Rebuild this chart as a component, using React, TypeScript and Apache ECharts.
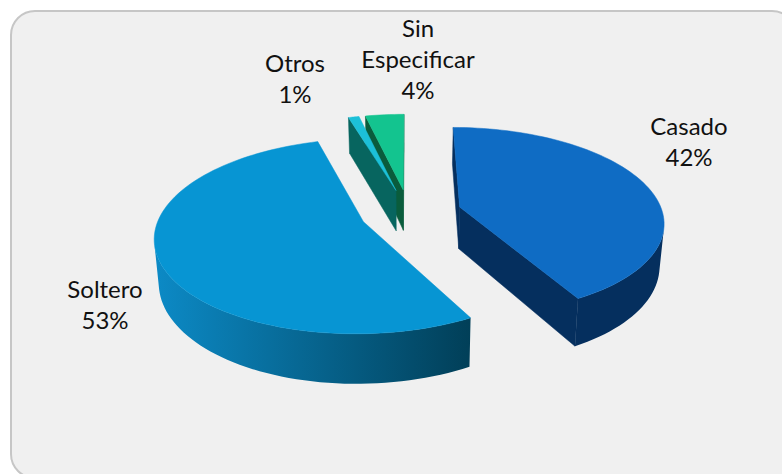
import React, { useEffect, useRef } from "react";
import * as echarts from "echarts";

const categories = ["Casado", "Soltero", "Otros", "Sin\nEspecificar"];
const values = [42.0, 53.4, 1.0, 3.6];
const percentLabels = ["42%", "53%", "1%", "4%"];

// Styles per slice
const topColors = ["#0F6CC4", "#0795D3", "#1CC0D8", "#13C48F"];
const startWallColors = ["#052F5E", "#014560", "#07655F", "#0A5C3C"];
const endWallColors = ["#052F5E", "#014560", "#07655F", "#0A5C3C"];
const rimColors: [string, string][] = [
  ["#052F5E", "#052F5E"],
  ["#0C8AC6", "#013F58"],
  ["#07655F", "#07655F"],
  ["#0A5C3C", "#0A5C3C"],
];
const explosions = [0.26, 0.24, 0.26, 0.26];
const drawOrder = [3, 2, 1, 0]; // back slices first
const labelAnchors: [number, number][] = [
  [689, 141],
  [105, 304],
  [295, 78],
  [418, 58],
];

// Projection of the pie plane (perspective tilt of the 3D pie)
const W = 782;
const H = 474;
const VX = 409;
const HORIZON = -421;
const FX = 203;
const PLANE = 634;
const TILT = 0.1465;
const DEPTH = 42;
const BOTTOM_X_SCALE = 0.982;

function project(X: number, Y: number, bottom: boolean): [number, number] {
  const w = 1 + TILT * Y;
  const sx = VX + (FX * X) / w;
  const sy = HORIZON + PLANE / w;
  if (!bottom) return [sx, sy];
  return [VX + (sx - VX) * BOTTOM_X_SCALE, sy + DEPTH / w];
}

function area(pts: number[][]): number {
  let a = 0;
  for (let i = 0; i < pts.length; i++) {
    const [x1, y1] = pts[i];
    const [x2, y2] = pts[(i + 1) % pts.length];
    a += x1 * y2 - x2 * y1;
  }
  return a;
}

const total = values.reduce((a, b) => a + b, 0);
const startAngles: number[] = [];
values.reduce((acc, v) => {
  startAngles.push((acc / total) * Math.PI * 2);
  return acc + v;
}, 0);

function renderSlice(params: any) {
  const i = drawOrder[params.dataIndex];
  const a0 = startAngles[i];
  const a1 = a0 + (values[i] / total) * Math.PI * 2;
  const mid = (a0 + a1) / 2;
  const ox = Math.sin(mid) * explosions[i];
  const oy = Math.cos(mid) * explosions[i];
  const N = Math.max(8, Math.ceil(((a1 - a0) * 180) / Math.PI / 2));
  const at = (t: number, b: boolean) => project(ox + Math.sin(t), oy + Math.cos(t), b);
  const apexT = project(ox, oy, false);
  const apexB = project(ox, oy, true);

  const arc: number[][] = [];
  const arcB: number[][] = [];
  for (let k = 0; k <= N; k++) {
    const t = a0 + ((a1 - a0) * k) / N;
    arc.push(at(t, false));
    arcB.push(at(t, true));
  }

  const children: any[] = [];
  const wall = (pts: number[][], fill: any) => {
    if (area(pts) < 0) {
      children.push({
        type: "polygon",
        shape: { points: pts },
        style: { fill, stroke: fill, lineWidth: 0.5 },
      });
    }
  };
  // radial walls
  wall([apexT, arc[0], arcB[0], apexB], startWallColors[i]);
  wall([arc[N], apexT, apexB, arcB[N]], endWallColors[i]);

  // outer rim: only the segments facing the viewer
  let first = -1;
  let last = -1;
  for (let k = 0; k < N; k++) {
    if (area([arc[k], arc[k + 1], arcB[k + 1], arcB[k]]) < 0) {
      if (first < 0) first = k;
      last = k;
    }
  }
  if (first >= 0) {
    const top = arc.slice(first, last + 2);
    const bot = arcB.slice(first, last + 2).reverse();
    const [cA, cB] = rimColors[i];
    const fill = new echarts.graphic.LinearGradient(0, 0, 1, 0, [
      { offset: 0, color: cA },
      { offset: 1, color: cB },
    ]);
    children.push({
      type: "polygon",
      shape: { points: top.concat(bot) },
      style: { fill, stroke: "none" },
    });
  }
  // top face
  children.push({
    type: "polygon",
    shape: { points: [apexT, ...arc] },
    style: { fill: topColors[i], stroke: topColors[i], lineWidth: 0.5 },
  });
  // label
  children.push({
    type: "text",
    x: labelAnchors[i][0],
    y: labelAnchors[i][1],
    style: {
      text: categories[i] + "\n" + percentLabels[i],
      fill: "#111111",
      font: '24px Lato, "Open Sans", sans-serif',
      lineHeight: 31,
      align: "center",
      verticalAlign: "middle",
    },
  });
  return { type: "group", children };
}

export default function App() {
  const ref = useRef<HTMLDivElement>(null);
  useEffect(() => {
    const chart = echarts.init(ref.current!, null, { renderer: "svg" });
    chart.setOption({
      animation: false,
      backgroundColor: "#ffffff",
      graphic: [
        {
          type: "rect",
          z: -10,
          shape: { x: 11, y: 11, width: 785, height: 467, r: 24 },
          style: { fill: "#F0F0F0", stroke: "#C6C6C6", lineWidth: 2 },
        },
      ],
      series: [
        {
          type: "custom",
          coordinateSystem: "none",
          clip: false,
          z: 2,
          data: drawOrder.map((k) => ({ name: categories[k], value: values[k] })),
          renderItem: renderSlice,
        },
      ],
    });
    return () => chart.dispose();
  }, []);
  return (
    <div
      ref={ref}
      style={{ position: "fixed", left: 0, top: 0, width: W, height: H }}
    />
  );
}
